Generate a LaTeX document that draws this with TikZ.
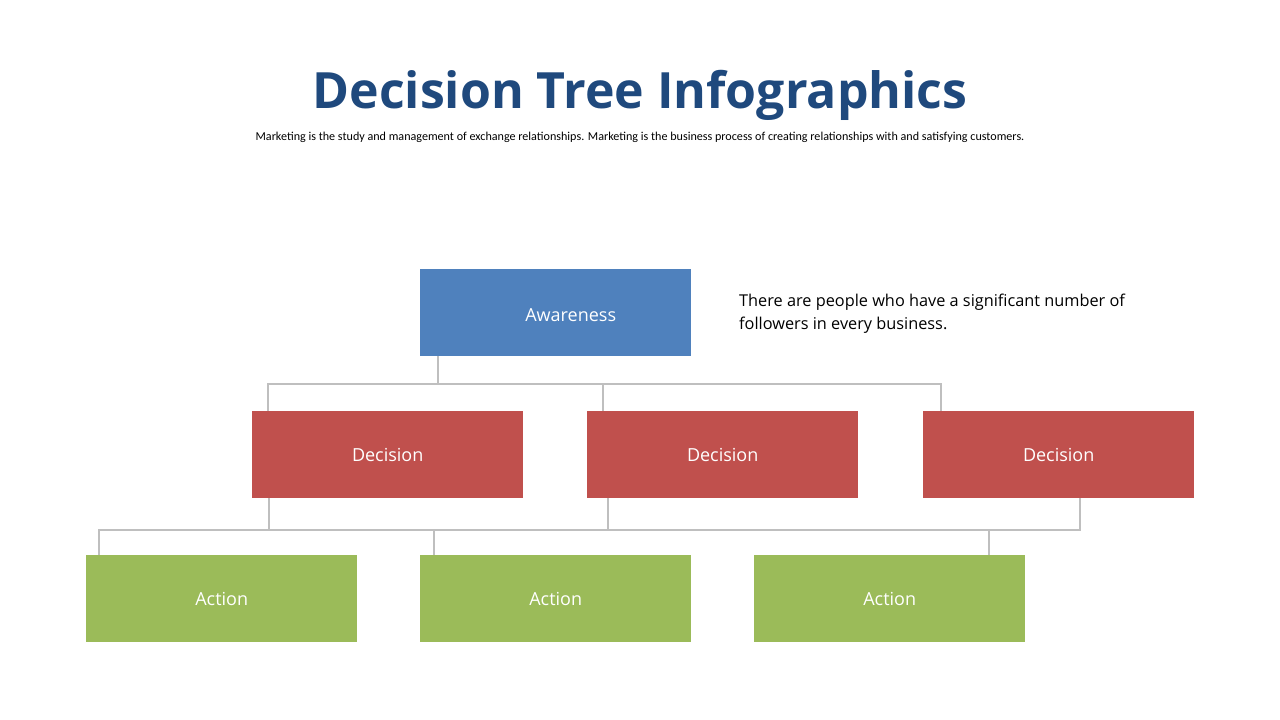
\documentclass[tikz,border=0pt]{standalone}
\usepackage{fontspec}
\setmainfont{Open Sans}
\newfontfamily\subfont{Carlito}
\usetikzlibrary{calc}
\definecolor{titleblue}{HTML}{1F497D}
\definecolor{awblue}{HTML}{4F81BD}
\definecolor{decred}{HTML}{C0504D}
\definecolor{actgreen}{HTML}{9BBB59}
\definecolor{linegray}{HTML}{BFBFBF}
\tikzset{
  box/.style={draw=none, minimum width=271pt, minimum height=87pt, inner sep=0pt, text=white, font=\fontsize{18}{21}\selectfont},
  awbox/.style={box, fill=awblue},
  decbox/.style={box, fill=decred},
  actbox/.style={box, fill=actgreen},
  conn/.style={draw=linegray, line width=1.8pt},
}
\begin{document}
\begin{tikzpicture}[x=1pt,y=-1pt]
\useasboundingbox (0,0) rectangle (1280,720);
\node[font=\bfseries\fontsize{50}{56}\selectfont, text=titleblue, inner sep=0pt] (title) at (640,95) {Decision Tree Infographics};
\node[font=\subfont\fontsize{12.1}{14}\selectfont, inner sep=0pt] (sub) at (640,137) {Marketing is the study and management of exchange relationships. Marketing is the business process of creating relationships with and satisfying customers.};
\node[awbox, anchor=north west, text depth=0pt] (aw) at (420,269) {};
\node[text=white, font=\fontsize{18}{21}\selectfont, inner sep=0pt] (awt) at ($(aw.center)+(15,2)$) {Awareness};
\node[decbox, anchor=north west] (d1) at (252,411) {\raisebox{-2pt}{Decision}};
\node[decbox, anchor=north west] (d2) at (587,411) {\raisebox{-2pt}{Decision}};
\node[decbox, anchor=north west] (d3) at (923,411) {\raisebox{-2pt}{Decision}};
\node[actbox, anchor=north west] (a1) at (86,555) {\raisebox{-2pt}{Action}};
\node[actbox, anchor=north west] (a2) at (420,555) {\raisebox{-2pt}{Action}};
\node[actbox, anchor=north west] (a3) at (754,555) {\raisebox{-2pt}{Action}};
\node[anchor=north west, align=left, font=\fontsize{16.3}{23}\selectfont, inner sep=0pt] (note) at (739,294) {There are people who have a significant number of\\followers in every business.};
% junction coordinates
\coordinate (t0) at (438,384);
\coordinate (t1) at (268,384);
\coordinate (t2) at (603,384);
\coordinate (t3) at (941,384);
\coordinate (b1) at (269,530);
\coordinate (b2) at (608,530);
\coordinate (b3) at (1080,530);
\coordinate (c1) at (99,530);
\coordinate (c2) at (434,530);
\coordinate (c3) at (989,530);
\draw[conn] (aw.south -| t0) -- (t0);
\draw[conn] (d1.north -| t1) -- (t1) -- (t3) -- (d3.north -| t3);
\draw[conn] (t2) -- (d2.north -| t2);
\draw[conn] (d1.south -| b1) -- (b1);
\draw[conn] (d2.south -| b2) -- (b2);
\draw[conn] (a1.north -| c1) -- (c1) -- (b3) -- (d3.south -| b3);
\draw[conn] (c2) -- (a2.north -| c2);
\draw[conn] (c3) -- (a3.north -| c3);
\end{tikzpicture}
\end{document}
